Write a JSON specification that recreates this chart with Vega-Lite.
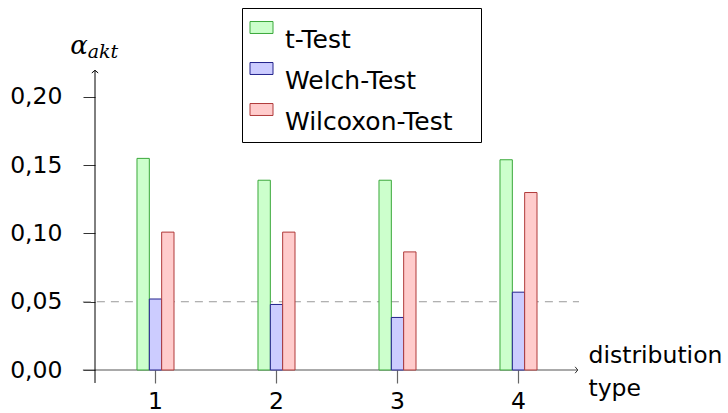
{
  "$schema": "https://vega.github.io/schema/vega-lite/v6.json",
  "width": 484,
  "height": 308,
  "autosize": {"type": "none"},
  "padding": {"left": 95, "top": 62, "right": 149, "bottom": 43},
  "background": "white",
  "config": {"view": {"stroke": null}, "font": "DejaVu Sans"},
  "layer": [
    {
      "data": {"values": [{}]},
      "layer": [
        {
          "mark": {"type": "rule", "color": "#9a9a9a", "strokeDash": [8, 6], "strokeWidth": 1},
          "encoding": {
            "x": {"datum": 0.4, "type": "quantitative", "scale": {"domain": [0.5, 4.5], "nice": false, "zero": false}, "axis": null},
            "x2": {"datum": 4.5},
            "y": {"datum": 0.05, "type": "quantitative"}
          }
        },
        {
          "mark": {"type": "rule", "color": "#555555", "strokeWidth": 1},
          "encoding": {
            "x": {"datum": 0.4, "type": "quantitative", "axis": null},
            "x2": {"datum": 4.49},
            "y": {"datum": 0, "type": "quantitative"}
          }
        },
        {
          "mark": {"type": "rule", "color": "black", "strokeWidth": 1},
          "encoding": {
            "x": {"datum": 0.5, "type": "quantitative", "axis": null},
            "y": {"datum": -0.0095, "type": "quantitative"},
            "y2": {"datum": 0.2195}
          }
        },
        {
          "mark": {"type": "point", "shape": "M-0.9,0.75L0,0L0.9,0.75", "filled": false, "size": 50, "color": "black", "strokeWidth": 1, "opacity": 1},
          "encoding": {
            "x": {"datum": 0.5, "type": "quantitative", "axis": null},
            "y": {"datum": 0.2195, "type": "quantitative"}
          }
        },
        {
          "mark": {"type": "point", "shape": "M-0.75,-0.9L0,0L-0.75,0.9", "filled": false, "size": 50, "color": "#333333", "strokeWidth": 1, "opacity": 1},
          "encoding": {
            "x": {"datum": 4.49, "type": "quantitative", "axis": null},
            "y": {"datum": 0, "type": "quantitative"}
          }
        },
        {
          "mark": {"type": "text", "text": "α", "font": "DejaVu Serif", "fontStyle": "italic", "fontSize": 26, "align": "right", "baseline": "alphabetic", "color": "black"},
          "encoding": {
            "x": {"datum": 0.44, "type": "quantitative", "axis": null},
            "y": {"datum": 0.2315, "type": "quantitative"}
          }
        },
        {
          "mark": {"type": "text", "text": "akt", "font": "DejaVu Serif", "fontStyle": "italic", "fontSize": 19, "align": "left", "baseline": "alphabetic", "color": "black"},
          "encoding": {
            "x": {"datum": 0.44, "type": "quantitative", "axis": null},
            "y": {"datum": 0.2283, "type": "quantitative"}
          }
        }
      ]
    },
    {
      "data": {
        "values": [
          {"distribution": "1", "test": "t-Test", "alpha": 0.155},
          {"distribution": "1", "test": "Welch-Test", "alpha": 0.052},
          {"distribution": "1", "test": "Wilcoxon-Test", "alpha": 0.101},
          {"distribution": "2", "test": "t-Test", "alpha": 0.139},
          {"distribution": "2", "test": "Welch-Test", "alpha": 0.048},
          {"distribution": "2", "test": "Wilcoxon-Test", "alpha": 0.101},
          {"distribution": "3", "test": "t-Test", "alpha": 0.139},
          {"distribution": "3", "test": "Welch-Test", "alpha": 0.0385},
          {"distribution": "3", "test": "Wilcoxon-Test", "alpha": 0.0865},
          {"distribution": "4", "test": "t-Test", "alpha": 0.154},
          {"distribution": "4", "test": "Welch-Test", "alpha": 0.057},
          {"distribution": "4", "test": "Wilcoxon-Test", "alpha": 0.130}
        ]
      },
      "mark": {"type": "bar", "strokeWidth": 1, "opacity": 1},
      "encoding": {
        "x": {
          "field": "distribution", "type": "nominal",
          "scale": {"paddingInner": 0.694, "paddingOuter": 0.347},
          "axis": {
            "title": ["distribution", "type"],
            "titleX": 493, "titleY": -8,
            "titleAlign": "left", "titleBaseline": "alphabetic", "titleLineHeight": 33,
            "titleFontSize": 23.5, "titleFontWeight": "normal", "titleFont": "DejaVu Sans", "titleColor": "black",
            "labelAngle": 0, "labelFontSize": 23.5, "labelFont": "DejaVu Sans", "labelColor": "black",
            "labelPadding": 6, "labelBaseline": "top",
            "tickSize": 13, "tickColor": "#666666", "tickWidth": 1.2,
            "domain": false, "grid": false
          }
        },
        "xOffset": {
          "field": "test", "type": "nominal",
          "sort": ["t-Test", "Welch-Test", "Wilcoxon-Test"],
          "scale": {"paddingInner": 0, "paddingOuter": 0}
        },
        "y": {
          "field": "alpha", "type": "quantitative",
          "scale": {"domain": [0, 0.2256], "nice": false, "zero": false},
          "axis": {
            "title": null,
            "values": [0, 0.05, 0.1, 0.15, 0.2],
            "labelExpr": "replace(format(datum.value, '.2f'), '.', ',')",
            "labelFontSize": 23.5, "labelFont": "DejaVu Sans", "labelColor": "black",
            "labelPadding": 21, "tickSize": 12, "tickColor": "#333333", "tickWidth": 1,
            "domain": false, "grid": false
          }
        },
        "fill": {
          "field": "test", "type": "nominal",
          "scale": {"domain": ["t-Test", "Welch-Test", "Wilcoxon-Test"], "range": ["#ccffcc", "#ccccff", "#ffcccc"]},
          "legend": {
            "orient": "none", "legendX": 147, "legendY": -54,
            "title": " ", "titleOrient": "right", "titleFontSize": 18, "titlePadding": 22,
            "strokeColor": "black", "fillColor": "white", "padding": 7,
            "symbolType": "M-1,-0.52H1V0.52H-1Z", "symbolSize": 529, "symbolStrokeWidth": 1, "symbolOpacity": 1,
            "labelFontSize": 25, "labelFont": "DejaVu Sans", "labelColor": "black",
            "labelOffset": 11, "rowPadding": 3, "labelBaseline": "top", "labelLimit": 400
          }
        },
        "stroke": {
          "field": "test", "type": "nominal",
          "scale": {"domain": ["t-Test", "Welch-Test", "Wilcoxon-Test"], "range": ["#3aa83a", "#22228c", "#b03a3a"]},
          "legend": {
            "orient": "none", "legendX": 147, "legendY": -54,
            "title": " ", "titleOrient": "right", "titleFontSize": 18, "titlePadding": 22,
            "strokeColor": "black", "fillColor": "white", "padding": 7,
            "symbolType": "M-1,-0.52H1V0.52H-1Z", "symbolSize": 529, "symbolStrokeWidth": 1, "symbolOpacity": 1,
            "labelFontSize": 25, "labelFont": "DejaVu Sans", "labelColor": "black",
            "labelOffset": 11, "rowPadding": 3, "labelBaseline": "top", "labelLimit": 400
          }
        }
      }
    }
  ],
  "resolve": {"scale": {"x": "independent"}}
}
